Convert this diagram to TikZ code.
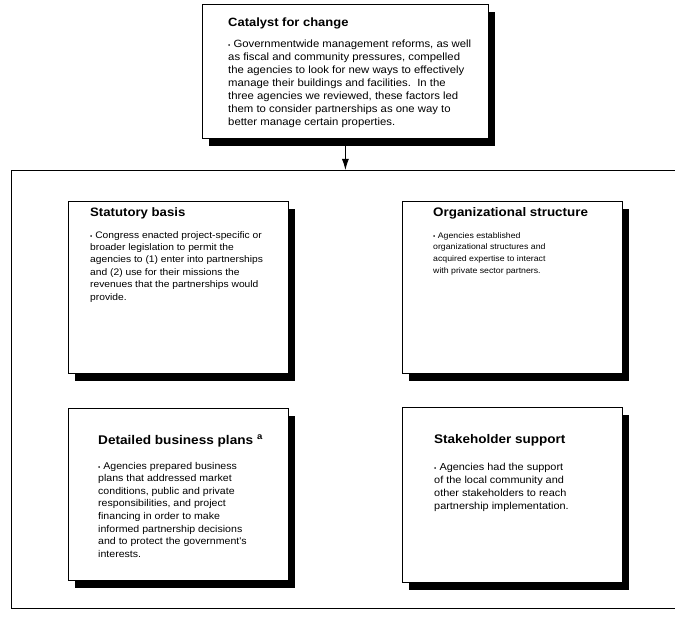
\documentclass[tikz,border=0pt]{standalone}
\usepackage{fontspec}
\setmainfont{Liberation Sans}
\newfontfamily\cardfont[FakeStretch=1.08]{Liberation Sans}
\usetikzlibrary{arrows.meta,shadows}

\newcommand{\bul}{{\fontsize{6}{6}\selectfont\textbullet}\ }

\begin{document}
\begin{tikzpicture}[
        x=1pt, y=-1pt,
        card/.style={draw, line width=0.8pt, fill=white, inner sep=0pt, anchor=north west,
            drop shadow={shadow xshift=7pt, shadow yshift=-8pt, fill=black, opacity=1}},
        card_title/.style={anchor=base west, inner sep=0pt, font={\cardfont\bfseries\fontsize{#1}{14}\selectfont}},
        card_title/.default=12.3,
        card_text/.style n args={2}{anchor=north west, inner sep=0pt, align=left, font={\cardfont\fontsize{#1}{#2}\selectfont}},
    ]
    \useasboundingbox (0,0) rectangle (675,620);

    % Frame round the four factors
    \coordinate (frame_nw) at (11,170);
    \coordinate (frame_sw) at (11,608);
    \draw[line width=0.9pt] (675,170) -- (frame_nw) -- (frame_sw) -- (675,608);

    % Catalyst
    \node[card, minimum width=286pt, minimum height=134pt] (cat) at (202,4) {};
    \node[card_title=12.0] (cat_title) at ([shift={(26,23)}]cat.north west) {Catalyst for change};
    \node[card_text={10.5}{13.1}] (cat_text) at ([shift={(26,35.3)}]cat.north west) {\bul Governmentwide management reforms, as well\\
        as fiscal and community pressures, compelled\\
        the agencies to look for new ways to effectively\\
        manage their buildings and facilities.\ \ In the\\
        three agencies we reviewed, these factors led\\
        them to consider partnerships as one way to\\
        better manage certain properties.};

    \draw[line width=0.9pt, -{Latex[length=11pt, width=7pt]}] (cat.south) -- (cat.south |- frame_nw);

    % The four factors
    \node[card, minimum width=220pt, minimum height=172pt] (stat) at (68,201) {};
    \node[card_title=12.2] (stat_title) at ([shift={(22,16)}]stat.north west) {Statutory basis};
    \node[card_text={9.5}{12.4}] (stat_text) at ([shift={(22,30.1)}]stat.north west) {\bul Congress enacted project-specific or\\
        broader legislation to permit the\\
        agencies to (1) enter into partnerships\\
        and (2) use for their missions the\\
        revenues that the partnerships would\\
        provide.};

    \node[card, minimum width=220pt, minimum height=172pt] (org) at (402,201) {};
    \node[card_title=12.4] (org_title) at ([shift={(31,16)}]org.north west) {Organizational structure};
    \node[card_text={8.1}{11.8}] (org_text) at ([shift={(31,31.1)}]org.north west) {\bul Agencies established\\
        organizational structures and\\
        acquired expertise to interact\\
        with private sector partners.};

    \node[card, minimum width=220pt, minimum height=172pt] (plan) at (68,408) {};
    \node[card_title=12.6] (plan_title) at ([shift={(30,36)}]plan.north west) {Detailed business plans \textsuperscript{a}};
    \node[card_text={9.8}{12.6}] (plan_text) at ([shift={(30,53.8)}]plan.north west) {\bul Agencies prepared business\\
        plans that addressed market\\
        conditions, public and private\\
        responsibilities, and project\\
        financing in order to make\\
        informed partnership decisions\\
        and to protect the government's\\
        interests.};

    \node[card, minimum width=220pt, minimum height=175pt] (stake) at (402,407) {};
    \node[card_title=12.5] (stake_title) at ([shift={(32,36)}]stake.north west) {Stakeholder support};
    \node[card_text={10.1}{13}] (stake_text) at ([shift={(32,55.6)}]stake.north west) {\bul Agencies had the support\\
        of the local community and\\
        other stakeholders to reach\\
        partnership implementation.};

\end{tikzpicture}
\end{document}
